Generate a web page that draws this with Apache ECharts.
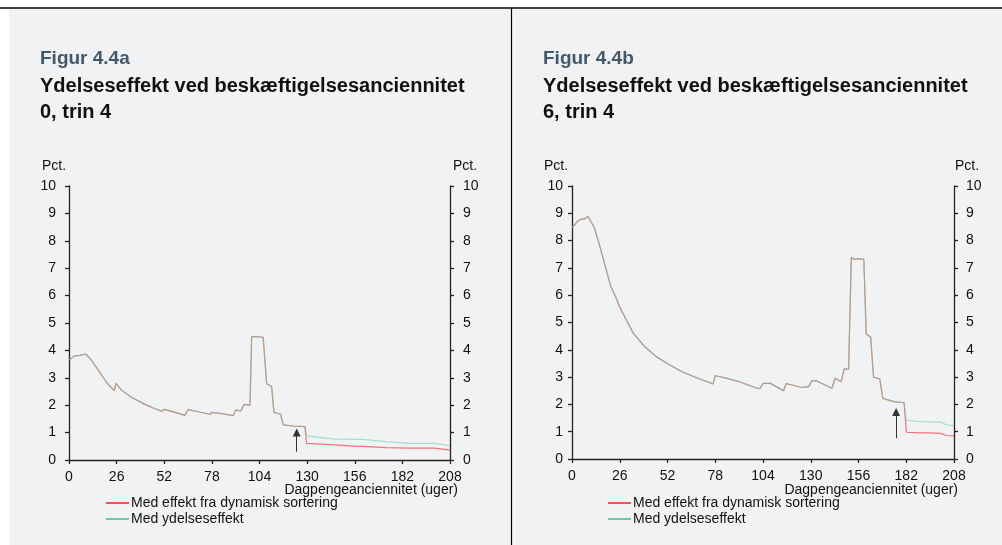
<!DOCTYPE html>
<html>
<head>
<meta charset="utf-8">
<script src="https://cdn.jsdelivr.net/npm/echarts@6/dist/echarts.min.js"></script>
<style>
html,body{margin:0;padding:0;background:#ffffff;}
#chart{width:1002px;height:545px;}
</style>
</head>
<body>
<div id="chart"></div>
<script>
// ---- Data ----
const xTicks = [0, 26, 52, 78, 104, 130, 156, 182, 208];
const seriesNames = ['Med effekt fra dynamisk sortering', 'Med ydelseseffekt'];
const titlesA = ['Figur 4.4a', 'Ydelseseffekt ved beskæftigelsesanciennitet', '0, trin 4'];
const titlesB = ['Figur 4.4b', 'Ydelseseffekt ved beskæftigelsesanciennitet', '6, trin 4'];
const unitLabel = 'Pct.';
const xAxisLabel = 'Dagpengeanciennitet (uger)';

// Figure A (weeks, values)
const weeksA = [0, 3, 6, 9, 11.5, 16, 20.6, 24.7, 25.7, 28.7, 34, 41.5, 47, 50.6, 52, 58, 63.3, 65, 70.6, 77, 78.2, 83.3, 89.7, 91, 93.7, 95.7, 98.8, 99.7, 103, 106, 107, 107.9, 110.6, 111.9, 115.5, 117, 122.4, 128.8, 129.7, 145, 156, 160.7, 173, 186, 199.6, 208];
const dynA = [3.65, 3.80, 3.82, 3.87, 3.71, 3.28, 2.82, 2.53, 2.80, 2.55, 2.29, 2.03, 1.87, 1.78, 1.85, 1.74, 1.63, 1.84, 1.76, 1.67, 1.74, 1.69, 1.62, 1.82, 1.79, 2.03, 2.00, 4.50, 4.50, 4.48, 4.44, 2.78, 2.68, 1.74, 1.67, 1.28, 1.24, 1.22, 0.61, 0.55, 0.51, 0.50, 0.45, 0.43, 0.43, 0.36];
const ydA  = [3.65, 3.80, 3.82, 3.87, 3.71, 3.28, 2.82, 2.53, 2.80, 2.55, 2.29, 2.03, 1.87, 1.78, 1.85, 1.74, 1.63, 1.84, 1.76, 1.67, 1.74, 1.69, 1.62, 1.82, 1.79, 2.03, 2.00, 4.50, 4.50, 4.48, 4.44, 2.78, 2.68, 1.74, 1.67, 1.28, 1.24, 1.22, 0.88, 0.76, 0.75, 0.75, 0.67, 0.61, 0.61, 0.52];
const arrowA = [[124.3, 0.3], [124.3, 1.0]];

// Figure B (weeks, values)
const weeksB = [0, 3.3, 5.1, 6.9, 8.7, 9.6, 12.3, 16, 18.7, 21, 24.1, 25.9, 29.6, 33.2, 39.6, 45.9, 53.2, 60.5, 69.5, 76.8, 78, 84, 91.2, 100.7, 102.5, 104, 108, 115.2, 116.5, 119.8, 125.2, 128.8, 130.6, 133.3, 141.5, 143.3, 146.6, 148.2, 150.6, 152.1, 153.8, 156.2, 158.9, 160.2, 162.6, 164.2, 167.6, 169.2, 175.3, 180.8, 182.1, 189.6, 195, 200.6, 204, 208];
const dynB = [8.47, 8.73, 8.79, 8.79, 8.89, 8.87, 8.45, 7.59, 6.92, 6.34, 5.89, 5.58, 5.09, 4.63, 4.11, 3.75, 3.44, 3.18, 2.93, 2.75, 3.05, 2.96, 2.83, 2.59, 2.59, 2.77, 2.77, 2.50, 2.76, 2.71, 2.62, 2.65, 2.86, 2.86, 2.59, 2.96, 2.83, 3.30, 3.29, 7.39, 7.31, 7.34, 7.31, 4.57, 4.48, 3.00, 2.93, 2.22, 2.10, 2.06, 0.98, 0.96, 0.96, 0.94, 0.86, 0.85];
const ydB  = [8.47, 8.73, 8.79, 8.79, 8.89, 8.87, 8.45, 7.59, 6.92, 6.34, 5.89, 5.58, 5.09, 4.63, 4.11, 3.75, 3.44, 3.18, 2.93, 2.75, 3.05, 2.96, 2.83, 2.59, 2.59, 2.77, 2.77, 2.50, 2.76, 2.71, 2.62, 2.65, 2.86, 2.86, 2.59, 2.96, 2.83, 3.30, 3.29, 7.39, 7.31, 7.34, 7.31, 4.57, 4.48, 3.00, 2.93, 2.22, 2.10, 2.06, 1.42, 1.37, 1.36, 1.35, 1.25, 1.22];
const arrowB = [[176.5, 0.76], [176.5, 1.72]];

// ---- Styling ----
const RED = '#f0525a';
const GREEN = '#6acba5';
const AXIS = '#222222';
const FONT = '"Liberation Sans", Arial, Helvetica, sans-serif';

function pairs(xs, ys) { return xs.map((x, i) => [x, ys[i]]); }

function xAxisCfg(gi) {
  return {
    gridIndex: gi, type: 'value', min: 0, max: 208, interval: 26,
    axisLine: { show: true, onZero: false, lineStyle: { color: AXIS, width: 1.3 } },
    axisTick: { show: true, length: 4, inside: false, lineStyle: { color: AXIS, width: 1.3 } },
    axisLabel: { color: '#111', fontSize: 14, fontFamily: FONT, margin: 10,
      formatter: v => (xTicks.indexOf(v) >= 0 ? String(v) : '') },
    splitLine: { show: false }
  };
}
function yAxisCfg(gi, pos, margin) {
  return {
    gridIndex: gi, type: 'value', position: pos, min: 0, max: 10, interval: 1,
    axisLine: { show: true, lineStyle: { color: AXIS, width: 1.3 } },
    axisTick: { show: true, length: 4, inside: false, lineStyle: { color: AXIS, width: 1.3 } },
    axisLabel: { color: '#111', fontSize: 14, fontFamily: FONT, margin: margin },
    splitLine: { show: false }
  };
}
function lineSeries(name, xi, yi, data, color, opacity, arrow) {
  const s = {
    name: name, type: 'line', xAxisIndex: xi, yAxisIndex: yi,
    data: data, symbol: 'none', showSymbol: false,
    lineStyle: { color: color, width: 1.2, opacity: opacity },
    itemStyle: { color: color },
    emphasis: { disabled: true }, silent: true, animation: false
  };
  if (arrow) {
    s.markLine = {
      silent: true, animation: false,
      symbol: ['none', 'triangle'], symbolSize: 8,
      lineStyle: { color: '#333', width: 1, type: 'solid', opacity: 1 },
      itemStyle: { color: '#222' },
      label: { show: false },
      emphasis: { disabled: true },
      data: [[{ coord: arrow[0] }, { coord: arrow[1] }]]
    };
  }
  return s;
}
function text(x, y, str, opts) {
  return {
    type: 'text', x: x, y: y, silent: true,
    style: Object.assign({ text: str, fill: '#111', font: '14px ' + FONT, align: 'left', verticalAlign: 'middle' }, opts || {})
  };
}

const chart = echarts.init(document.getElementById('chart'), null, { renderer: 'canvas' });

const legendCfg = (left) => ({
  orient: 'vertical', left: left, top: 496, padding: 0, itemWidth: 23, itemHeight: 2, itemGap: 2,
  icon: 'rect', selectedMode: false,
  data: seriesNames,
  textStyle: { color: '#111', fontSize: 14, fontFamily: FONT, padding: [0, 0, 0, -3] }
});

chart.setOption({
  animation: false,
  backgroundColor: 'transparent',
  grid: [
    { left: 69, top: 186, width: 381, height: 274 },
    { left: 572, top: 186, width: 382, height: 273 }
  ],
  xAxis: [xAxisCfg(0), xAxisCfg(1)],
  yAxis: [yAxisCfg(0, 'left', 13), yAxisCfg(0, 'right', 13), yAxisCfg(1, 'left', 9), yAxisCfg(1, 'right', 12)],
  legend: [legendCfg(106), legendCfg(608)],
  series: [
    lineSeries(seriesNames[0], 0, 0, pairs(weeksA, dynA), RED, 0.8, arrowA),
    lineSeries(seriesNames[1], 0, 0, pairs(weeksA, ydA), GREEN, 0.55, null),
    lineSeries(seriesNames[0], 1, 2, pairs(weeksB, dynB), RED, 0.8, arrowB),
    lineSeries(seriesNames[1], 1, 2, pairs(weeksB, ydB), GREEN, 0.55, null)
  ],
  graphic: [
    { type: 'rect', silent: true, z: -10, shape: { x: 9, y: 9, width: 993, height: 536 }, style: { fill: '#f1f2f4' } },
    { type: 'line', silent: true, shape: { x1: 0, y1: 8, x2: 1002, y2: 8 }, style: { stroke: '#000', lineWidth: 1.6 } },
    { type: 'line', silent: true, shape: { x1: 511.5, y1: 8, x2: 511.5, y2: 545 }, style: { stroke: '#000', lineWidth: 1.2 } },
    text(40, 59, titlesA[0], { font: 'bold 19px ' + FONT, fill: '#41596b' }),
    text(40, 86, titlesA[1], { font: 'bold 20px ' + FONT, fill: '#111' }),
    text(40, 112, titlesA[2], { font: 'bold 20px ' + FONT, fill: '#111' }),
    text(543, 59, titlesB[0], { font: 'bold 19px ' + FONT, fill: '#41596b' }),
    text(543, 86, titlesB[1], { font: 'bold 20px ' + FONT, fill: '#111' }),
    text(543, 112, titlesB[2], { font: 'bold 20px ' + FONT, fill: '#111' }),
    text(42, 166, unitLabel),
    text(453, 166, unitLabel),
    text(544, 166, unitLabel),
    text(955, 166, unitLabel),
    text(458, 490, xAxisLabel, { align: 'right' }),
    text(958, 490, xAxisLabel, { align: 'right' })
  ]
});
</script>
</body>
</html>
